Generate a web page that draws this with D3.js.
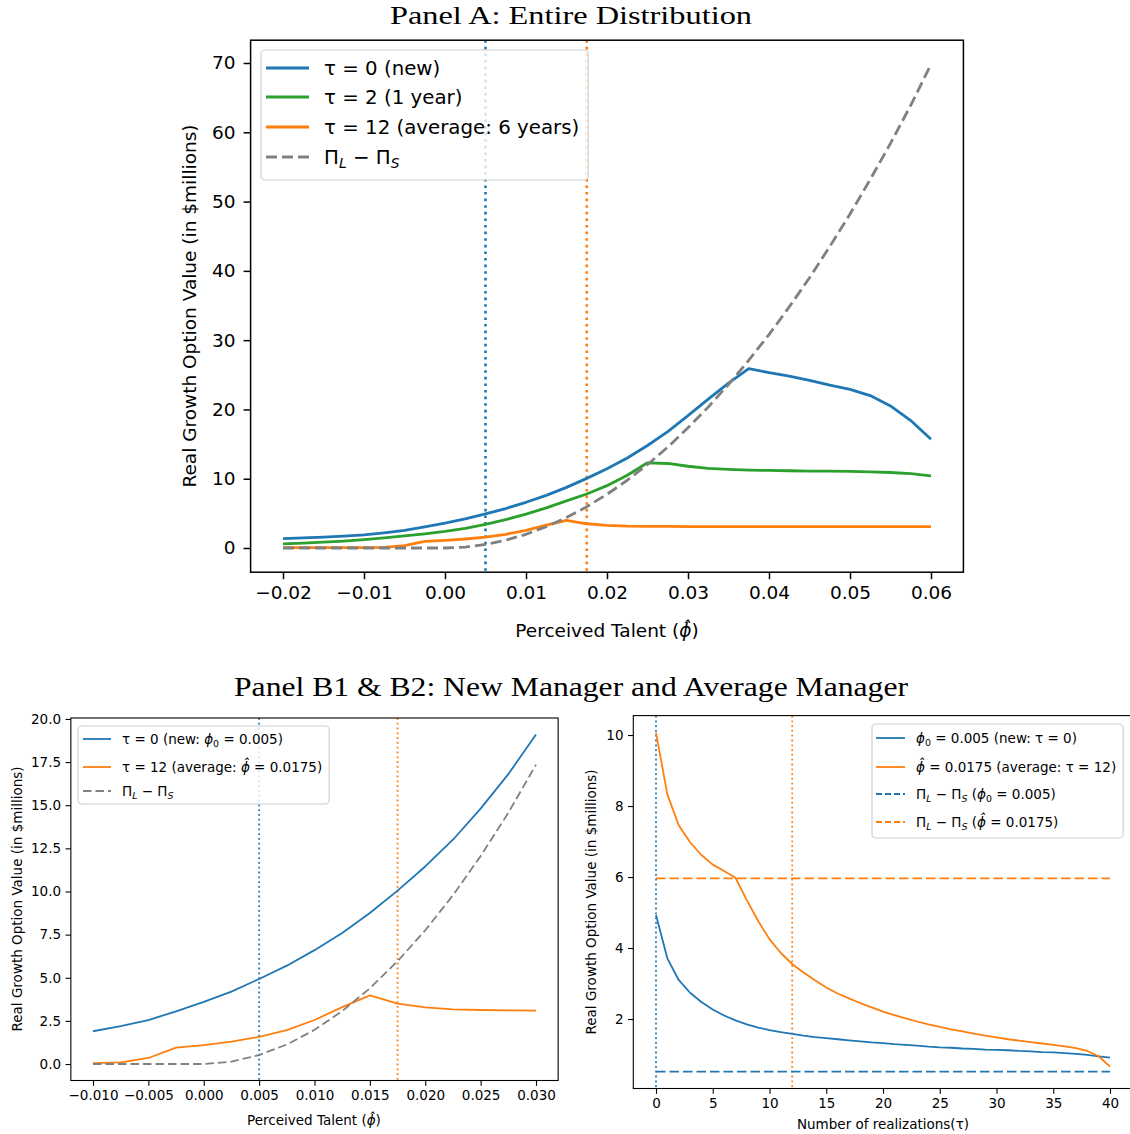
<!DOCTYPE html>
<html><head><meta charset="utf-8">
<script src="https://cdn.jsdelivr.net/npm/d3@7"></script>
<style>
body{margin:0;background:#fff;}
svg{display:block;font-family:"DejaVu Sans",sans-serif;}
</style></head><body>
<svg id="chart" width="1130" height="1134"></svg>
<script>
// ---- Panel A / B1: option value against perceived talent (phi-hat) ----
const talent = [-0.02,-0.0175,-0.015,-0.0125,-0.01,-0.0075,-0.005,-0.0025,0,0.0025,0.005,0.0075,0.01,0.0125,0.015,0.0175,0.02,0.0225,0.025,0.0275,0.03,0.0325,0.035,0.0375,0.04,0.0425,0.045,0.0475,0.05,0.0525,0.055,0.0575,0.06];
const optNew     = [1.35,1.45,1.57,1.72,1.9,2.2,2.55,3.05,3.6,4.2,4.93,5.7,6.6,7.6,8.75,10.05,11.45,13.0,14.8,16.8,19.1,21.5,23.8,25.9,25.3,24.8,24.2,23.5,22.9,22.0,20.5,18.4,15.7];
const optOneYear = [0.6,0.72,0.85,1.0,1.2,1.45,1.75,2.05,2.4,2.85,3.4,4.1,4.9,5.8,6.8,7.8,9.0,10.5,12.3,12.2,11.8,11.5,11.35,11.25,11.2,11.15,11.1,11.1,11.05,11.0,10.9,10.75,10.4];
const optAverage = [0.05,0.05,0.05,0.05,0.05,0.1,0.35,0.95,1.1,1.3,1.57,1.97,2.55,3.3,3.98,3.5,3.28,3.17,3.13,3.11,3.1,3.1,3.1,3.1,3.1,3.1,3.1,3.1,3.1,3.1,3.1,3.1,3.1];
const profitGap  = [0,0,0,0,0,0,0,0,0,0.14,0.52,1.13,1.98,3.07,4.39,5.96,7.75,9.78,12.05,14.56,17.35,20.35,23.6,27.1,30.8,34.8,39.0,43.5,48.2,53.2,58.4,63.9,69.8];
const phiNew = 0.005, phiAverage = 0.0175;

// ---- Panel B2: option value against number of realizations (tau) ----
const realizations = [0,1,2,3,4,5,6,7,8,9,10,11,12,13,14,15,16,17,18,19,20,21,22,23,24,25,26,27,28,29,30,31,32,33,34,35,36,37,38,39,40];
const pathNew     = [4.93,3.71,3.10,2.74,2.48,2.27,2.10,1.96,1.85,1.76,1.69,1.63,1.58,1.53,1.49,1.46,1.43,1.40,1.37,1.34,1.32,1.29,1.27,1.25,1.22,1.20,1.19,1.17,1.16,1.14,1.13,1.12,1.10,1.09,1.07,1.06,1.04,1.02,0.99,0.95,0.91];
const pathAverage = [10.07,8.33,7.46,6.98,6.62,6.35,6.17,5.98,5.35,4.76,4.25,3.86,3.55,3.31,3.09,2.89,2.72,2.58,2.45,2.33,2.21,2.11,2.02,1.93,1.85,1.78,1.71,1.65,1.59,1.53,1.48,1.43,1.39,1.35,1.31,1.27,1.23,1.18,1.10,0.95,0.66];
const gapNew = 0.52, gapAverage = 5.96;
const tauNew = 0, tauAverage = 12;

// ---- tick values ----
const ticksAx = [-0.02,-0.01,0,0.01,0.02,0.03,0.04,0.05,0.06];
const ticksAy = [0,10,20,30,40,50,60,70];
const ticksB1x = [-0.01,-0.005,0,0.005,0.01,0.015,0.02,0.025,0.03];
const ticksB1y = [0,2.5,5,7.5,10,12.5,15,17.5,20];
const ticksB2x = [0,5,10,15,20,25,30,35,40];
const ticksB2y = [2,4,6,8,10];

const C = {blue:"#1f77b4", orange:"#ff7f0e", green:"#2ca02c", gray:"#808080"};
const svg = d3.select("#chart");

// padded extent, 5% each side
function padded(vals){
  const [a,b] = d3.extent(vals); const m = (b-a)*0.05; return [a-m, b+m];
}

// text with italic / subscript runs
function rich(sel, segs, fs){
  let shift = 0;
  segs.forEach(s => {
    if (typeof s === "string") s = {t:s};
    const target = s.sub ? fs*0.22 : 0;
    const ts = sel.append("tspan").text(s.t);
    if (target !== shift){ ts.attr("dy", target - shift); shift = target; }
    if (s.sub) ts.attr("font-size", fs*0.7);
    if (s.it) ts.attr("font-style","italic");
  });
  return sel;
}

function makeAxes(o){
  const g = svg.append("g");
  const x = d3.scaleLinear().domain(o.xDomain).range([o.left, o.right]);
  const y = d3.scaleLinear().domain(o.yDomain).range([o.bottom, o.top]);
  const ax = g.append("g").attr("transform",`translate(0,${o.bottom})`)
    .call(d3.axisBottom(x).tickValues(o.xTicks).tickFormat(d3.format(o.xFmt))
      .tickSizeInner(o.tick).tickSizeOuter(0).tickPadding(o.padX));
  const ay = g.append("g").attr("transform",`translate(${o.left},0)`)
    .call(d3.axisLeft(y).tickValues(o.yTicks).tickFormat(d3.format(o.yFmt))
      .tickSizeInner(o.tick).tickSizeOuter(0).tickPadding(o.padY));
  [ax, ay].forEach(a => {
    a.select(".domain").remove();
    a.selectAll("text").attr("font-size", o.fs).attr("font-family","DejaVu Sans").attr("fill","#000");
    a.selectAll("line").attr("stroke","#000").attr("stroke-width", o.frameW);
  });
  const plot = g.append("g");
  g.append("rect").attr("x",o.left).attr("y",o.top)
    .attr("width",o.right-o.left).attr("height",o.bottom-o.top)
    .attr("fill","none").attr("stroke","#000").attr("stroke-width",o.frameW);
  return {g, x, y, plot};
}

function drawLine(ax, xs, ys, color, w, dash){
  const line = d3.line().x(d => ax.x(d[0])).y(d => ax.y(d[1]));
  ax.plot.append("path").datum(xs.map((v,i)=>[v, ys[i]]))
    .attr("d", line).attr("fill","none").attr("stroke",color)
    .attr("stroke-width",w).attr("stroke-linejoin","round")
    .attr("stroke-dasharray", dash || null);
}
function vLine(ax, v, color, w, dash){
  ax.plot.append("line").attr("x1",ax.x(v)).attr("x2",ax.x(v))
    .attr("y1",ax.y.range()[1]).attr("y2",ax.y.range()[0])
    .attr("stroke",color).attr("stroke-width",w).attr("stroke-dasharray",dash);
}

function legend(o){
  const g = svg.append("g");
  const box = g.append("rect");
  let maxW = 0;
  o.rows.forEach(r => {
    g.append("line").attr("x1",o.h0).attr("x2",o.h1).attr("y1",r.y).attr("y2",r.y)
      .attr("stroke",r.color).attr("stroke-width",o.lw).attr("stroke-dasharray",r.dash||null);
    const t = g.append("text").attr("x",o.textX).attr("y",r.y).attr("dy","0.36em")
      .attr("font-size",o.fs).attr("fill","#000");
    rich(t, r.label, o.fs);
    maxW = Math.max(maxW, t.node().getComputedTextLength());
  });
  box.attr("x",o.x).attr("y",o.top).attr("width",o.textX + maxW + o.padR - o.x)
    .attr("height",o.bottom-o.top).attr("rx",4)
    .attr("fill","#fff").attr("fill-opacity",0.8)
    .attr("stroke","#d0d0d0").attr("stroke-width",1.2);
}

const hat = {t:"\u03D5\u0302", it:true};
const phi0 = [{t:"\u03D5", it:true},{t:"0", sub:true}];
const gapLabel = ["\u03A0",{t:"L",it:true,sub:true}," \u2212 \u03A0",{t:"S",it:true,sub:true}];

// ================= Titles =================
svg.append("text").attr("x",571).attr("y",24).attr("text-anchor","middle")
  .attr("font-family","Liberation Serif, serif").attr("font-size",26)
  .attr("textLength",362).attr("lengthAdjust","spacingAndGlyphs")
  .text("Panel A: Entire Distribution");
svg.append("text").attr("x",571).attr("y",696).attr("text-anchor","middle")
  .attr("font-family","Liberation Serif, serif").attr("font-size",27)
  .attr("textLength",674).attr("lengthAdjust","spacingAndGlyphs")
  .text("Panel B1 & B2: New Manager and Average Manager");

// ================= Panel A =================
const A = makeAxes({left:250.6, right:963.4, top:40.2, bottom:572.2,
  xDomain: padded(talent), yDomain: padded(profitGap.concat(optNew)),
  xTicks: ticksAx, yTicks: ticksAy, xFmt:".2f", yFmt:"d",
  tick:7, padX:7, padY:8, fs:18.5, frameW:1.5});
vLine(A, phiNew, C.blue, 2.6, "2.6,4");
vLine(A, phiAverage, C.orange, 2.6, "2.6,4");
drawLine(A, talent, optNew, C.blue, 2.8);
drawLine(A, talent, optOneYear, C.green, 2.8);
drawLine(A, talent, optAverage, C.orange, 2.8);
drawLine(A, talent, profitGap, C.gray, 2.8, "11,5");
svg.append("text").attr("x",607).attr("y",637).attr("text-anchor","middle").attr("font-size",18.5)
  .call(t => rich(t, ["Perceived Talent (", hat, ")"], 18.5));
svg.append("text").attr("transform","translate(196,306) rotate(-90)").attr("text-anchor","middle")
  .attr("font-size",18.5).text("Real Growth Option Value (in $millions)");
legend({x:261, top:50, bottom:180, h0:266, h1:309, textX:324, padR:9, fs:19.8, lw:2.8,
  rows:[
    {y:68, color:C.blue, label:["\u03C4 = 0 (new)"]},
    {y:97, color:C.green, label:["\u03C4 = 2 (1 year)"]},
    {y:127, color:C.orange, label:["\u03C4 = 12 (average: 6 years)"]},
    {y:157, color:C.gray, dash:"11,5", label:gapLabel}
  ]});

// ================= Panel B1 =================
const inB1 = talent.map((v,i)=>i).filter(i => talent[i] >= -0.01 - 1e-9 && talent[i] <= 0.03 + 1e-9);
const b1x = inB1.map(i=>talent[i]);
const b1New = inB1.map(i=>optNew[i]);
const b1Avg = inB1.map(i=>optAverage[i]);
const b1Gap = inB1.map(i=>profitGap[i]);
const B1 = makeAxes({left:70.85, right:558.15, top:718, bottom:1080.5,
  xDomain: padded(b1x), yDomain: padded(b1Gap.concat(b1New)),
  xTicks: ticksB1x, yTicks: ticksB1y, xFmt:".3f", yFmt:".1f",
  tick:5.3, padX:4.5, padY:4.5, fs:13.5, frameW:1.1});
vLine(B1, phiNew, C.blue, 1.8, "1.8,3");
vLine(B1, phiAverage, C.orange, 1.8, "1.8,3");
drawLine(B1, b1x, b1New, C.blue, 1.8);
drawLine(B1, b1x, b1Avg, C.orange, 1.8);
drawLine(B1, b1x, b1Gap, C.gray, 1.8, "8.5,4");
svg.append("text").attr("x",314).attr("y",1125).attr("text-anchor","middle").attr("font-size",13.5)
  .call(t => rich(t, ["Perceived Talent (", hat, ")"], 13.5));
svg.append("text").attr("transform","translate(22,899) rotate(-90)").attr("text-anchor","middle")
  .attr("font-size",13.5).text("Real Growth Option Value (in $millions)");
legend({x:78, top:726, bottom:804, h0:83, h1:111, textX:122, padR:7, fs:13.5, lw:1.8,
  rows:[
    {y:739, color:C.blue, label:["\u03C4 = 0 (new: ", ...phi0, " = 0.005)"]},
    {y:767, color:C.orange, label:["\u03C4 = 12 (average: ", hat, " = 0.0175)"]},
    {y:791, color:C.gray, dash:"8.5,4", label:gapLabel}
  ]});

// ================= Panel B2 =================
const B2 = makeAxes({left:633.3, right:1132.7, top:715.6, bottom:1088.5,
  xDomain: padded(realizations), yDomain: padded(pathAverage.concat([gapNew])),
  xTicks: ticksB2x, yTicks: ticksB2y, xFmt:"d", yFmt:"d",
  tick:5.3, padX:4.5, padY:4.5, fs:13.5, frameW:1.1});
vLine(B2, tauNew, C.blue, 1.8, "1.8,3");
vLine(B2, tauAverage, C.orange, 1.8, "1.8,3");
const tauEnds = [realizations[0], realizations[realizations.length-1]];
drawLine(B2, realizations, pathNew, C.blue, 1.8);
drawLine(B2, realizations, pathAverage, C.orange, 1.8);
drawLine(B2, tauEnds, [gapNew, gapNew], C.blue, 1.8, "9.5,4");
drawLine(B2, tauEnds, [gapAverage, gapAverage], C.orange, 1.8, "9.5,4");
svg.append("text").attr("x",883).attr("y",1129).attr("text-anchor","middle").attr("font-size",13.5)
  .text("Number of realizations(\u03C4)");
svg.append("text").attr("transform","translate(596,902) rotate(-90)").attr("text-anchor","middle")
  .attr("font-size",13.5).text("Real Growth Option Value (in $millions)");
legend({x:872, top:724, bottom:838, h0:876, h1:905, textX:916, padR:7, fs:13.5, lw:1.8,
  rows:[
    {y:738, color:C.blue, label:[...phi0, " = 0.005 (new: \u03C4 = 0)"]},
    {y:767, color:C.orange, label:[hat, " = 0.0175 (average: \u03C4 = 12)"]},
    {y:794, color:C.blue, dash:"6,3", label:[...gapLabel, " (", ...phi0, " = 0.005)"]},
    {y:822, color:C.orange, dash:"6,3", label:[...gapLabel, " (", hat, " = 0.0175)"]}
  ]});
</script></body></html>
